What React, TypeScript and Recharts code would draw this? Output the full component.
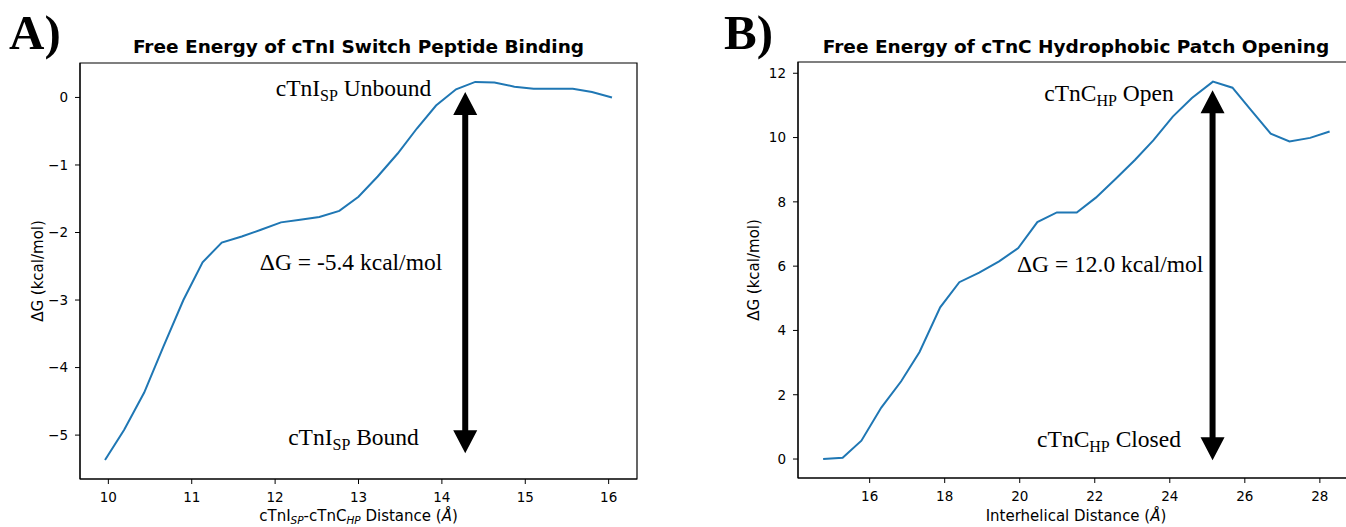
import React from "react";
import {
  LineChart,
  Line,
  XAxis,
  YAxis,
  ReferenceArea,
  ReferenceLine,
  ReferenceDot,
} from "recharts";

// Panel A: cTnI switch peptide binding
const distA = [
  9.96, 10.19, 10.43, 10.66, 10.9, 11.13, 11.36, 11.6, 11.83, 12.07, 12.3, 12.53, 12.77, 13.0,
  13.23, 13.47, 13.7, 13.93, 14.17, 14.4, 14.63, 14.87, 15.1, 15.34, 15.57, 15.8, 16.04,
];
const dgA = [
  -5.37, -4.92, -4.37, -3.69, -3.0, -2.44, -2.15, -2.06, -1.96, -1.85, -1.81, -1.77, -1.68, -1.47,
  -1.17, -0.83, -0.46, -0.12, 0.12, 0.23, 0.22, 0.16, 0.13, 0.13, 0.13, 0.08, 0.0,
];
const ticksXA = [10, 11, 12, 13, 14, 15, 16];
const ticksYA = [0, -1, -2, -3, -4, -5];
const domainXA: [number, number] = [9.66, 16.34];
const domainYA: [number, number] = [-5.65, 0.51];
const arrowA = { x: 14.28, from: -5.27, to: 0.08 };
const notesA = [
  { x: 12.94, y: 0.02, main: "cTnI", sub: "SP", rest: " Unbound" },
  { x: 12.91, y: -2.56, main: "ΔG = -5.4 kcal/mol", sub: "", rest: "" },
  { x: 12.94, y: -5.14, main: "cTnI", sub: "SP", rest: " Bound" },
];

// Panel B: cTnC hydrophobic patch opening
const distB = [
  14.76, 15.28, 15.78, 16.31, 16.84, 17.33, 17.88, 18.39, 18.92, 19.45, 19.96, 20.47, 20.99, 21.52,
  22.03, 22.56, 23.07, 23.56, 24.08, 24.59, 25.15, 25.67, 26.16, 26.69, 27.19, 27.74, 28.26,
];
const dgB = [
  0.0, 0.04, 0.57, 1.6, 2.42, 3.33, 4.72, 5.5, 5.8, 6.15, 6.56, 7.37, 7.67, 7.67, 8.13, 8.72, 9.3,
  9.91, 10.65, 11.23, 11.74, 11.55, 10.86, 10.12, 9.88, 9.99, 10.19,
];
const ticksXB = [16, 18, 20, 22, 24, 26, 28];
const ticksYB = [0, 2, 4, 6, 8, 10, 12];
const domainXB: [number, number] = [14.09, 28.91];
const domainYB: [number, number] = [-0.59, 12.35];
const arrowB = { x: 25.14, from: -0.04, to: 11.47 };
const notesB = [
  { x: 22.38, y: 11.14, main: "cTnC", sub: "HP", rest: " Open" },
  { x: 22.41, y: 5.81, main: "ΔG = 12.0 kcal/mol", sub: "", rest: "" },
  { x: 22.38, y: 0.37, main: "cTnC", sub: "HP", rest: " Closed" },
];

const dataA = distA.map((d, i) => ({ d, g: dgA[i] }));
const dataB = distB.map((d, i) => ({ d, g: dgB[i] }));

const SANS = "DejaVu Sans, sans-serif";
const SERIF = "Liberation Serif, Times New Roman, serif";
const BLUE = "#1f77b4";

const fmt = (v: number) => (v < 0 ? "\u2212" + Math.abs(v) : String(v));

// double headed arrow between the two ends of the reference segment
const arrowShape = (p: any) => {
  const x = p.x1;
  const top = Math.min(p.y1, p.y2);
  const bot = Math.max(p.y1, p.y2);
  const hw = 12, hl = 23, sw = 3;
  const d = `M${x},${top} L${x + hw},${top + hl} L${x + sw},${top + hl} L${x + sw},${bot - hl} L${x + hw},${bot - hl} L${x},${bot} L${x - hw},${bot - hl} L${x - sw},${bot - hl} L${x - sw},${top + hl} L${x - hw},${top + hl} Z`;
  return <path d={d} fill="#000" />;
};

const noteShape = (n: { main: string; sub: string; rest: string }) => (p: any) => (
  <text x={p.cx} y={p.cy} textAnchor="middle" fontFamily={SERIF} fontSize={23.5} fill="#000">
    {n.main}
    {n.sub && (
      <tspan fontSize={16} dy={5}>
        {n.sub}
      </tspan>
    )}
    {n.sub && <tspan dy={-5}>{n.rest}</tspan>}
  </text>
);

function Panel(props: any) {
  const { data, domX, domY, tX, tY, arrow, notes, width, margin, xh } = props;
  return (
    <LineChart width={width} height={527} data={data} margin={margin}>
      <XAxis
        dataKey="d"
        type="number"
        domain={domX}
        ticks={tX}
        allowDataOverflow
        height={xh}
        tickSize={5}
        tickMargin={8}
        stroke="#000"
        tick={{ fontSize: 13.5, fill: "#000", fontFamily: SANS }}
      />
      <YAxis
        type="number"
        domain={domY}
        ticks={tY}
        allowDataOverflow
        width={60}
        tickSize={5}
        tickMargin={7}
        stroke="#000"
        tickFormatter={fmt}
        tick={{ fontSize: 13.5, fill: "#000", fontFamily: SANS }}
      />
      <ReferenceArea
        x1={domX[0]}
        x2={domX[1]}
        y1={domY[0]}
        y2={domY[1]}
        fill="none"
        fillOpacity={0}
        stroke="#000"
        strokeWidth={1.2}
        ifOverflow="visible"
      />
      <Line
        type="linear"
        dataKey="g"
        stroke={BLUE}
        strokeWidth={2}
        dot={false}
        isAnimationActive={false}
      />
      <ReferenceLine
        segment={[
          { x: arrow.x, y: arrow.from },
          { x: arrow.x, y: arrow.to },
        ]}
        shape={arrowShape}
        ifOverflow="visible"
      />
      {notes.map((n: any, i: number) => (
        <ReferenceDot key={i} x={n.x} y={n.y} r={0} shape={noteShape(n)} ifOverflow="visible" />
      ))}
    </LineChart>
  );
}

export default function App() {
  return (
    <div
      style={{
        position: "absolute",
        left: 0,
        top: 0,
        width: 1346,
        height: 527,
        overflow: "hidden",
        background: "#fff",
      }}
    >
      <div style={{ position: "absolute", left: 0, top: 0 }}>
        <Panel
          data={dataA}
          domX={domainXA}
          domY={domainYA}
          tX={ticksXA}
          tY={ticksYA}
          arrow={arrowA}
          notes={notesA}
          width={700}
          margin={{ top: 63, right: 63, bottom: 0, left: 20 }}
          xh={48}
        />
      </div>
      <div style={{ position: "absolute", left: 700, top: 0 }}>
        <Panel
          data={dataB}
          domX={domainXB}
          domY={domainYB}
          tX={ticksXB}
          tY={ticksYB}
          arrow={arrowB}
          notes={notesB}
          width={660}
          margin={{ top: 62, right: 6, bottom: 0, left: 38 }}
          xh={49}
        />
      </div>
      <svg
        width={1346}
        height={527}
        style={{ position: "absolute", left: 0, top: 0, pointerEvents: "none" }}
      >
        <text x={9} y={49} fontFamily={SERIF} fontWeight="bold" fontSize={49} fill="#000">
          A)
        </text>
        <text x={724} y={49} fontFamily={SERIF} fontWeight="bold" fontSize={49} fill="#000">
          B)
        </text>
        <text x={358.5} y={53} textAnchor="middle" fontFamily={SANS} fontWeight="bold" fontSize={18.5}>
          Free Energy of cTnI Switch Peptide Binding
        </text>
        <text x={1076} y={53} textAnchor="middle" fontFamily={SANS} fontWeight="bold" fontSize={18.5}>
          Free Energy of cTnC Hydrophobic Patch Opening
        </text>
        <text
          transform="translate(38,271) rotate(-90)"
          textAnchor="middle"
          dominantBaseline="central"
          fontFamily={SANS}
          fontSize={15}
        >
          ΔG (kcal/mol)
        </text>
        <text
          transform="translate(754,270) rotate(-90)"
          textAnchor="middle"
          dominantBaseline="central"
          fontFamily={SANS}
          fontSize={15}
        >
          ΔG (kcal/mol)
        </text>
        <text x={358.5} y={521} textAnchor="middle" fontFamily={SANS} fontSize={15}>
          cTnI
          <tspan fontStyle="italic" fontSize={10.5} dy={3}>
            SP
          </tspan>
          <tspan dy={-3}>-cTnC</tspan>
          <tspan fontStyle="italic" fontSize={10.5} dy={3}>
            HP
          </tspan>
          <tspan dy={-3}> Distance (</tspan>
          <tspan fontStyle="italic">Å</tspan>)
        </text>
        <text x={1076} y={521} textAnchor="middle" fontFamily={SANS} fontSize={15}>
          Interhelical Distance (<tspan fontStyle="italic">Å</tspan>)
        </text>
      </svg>
    </div>
  );
}
